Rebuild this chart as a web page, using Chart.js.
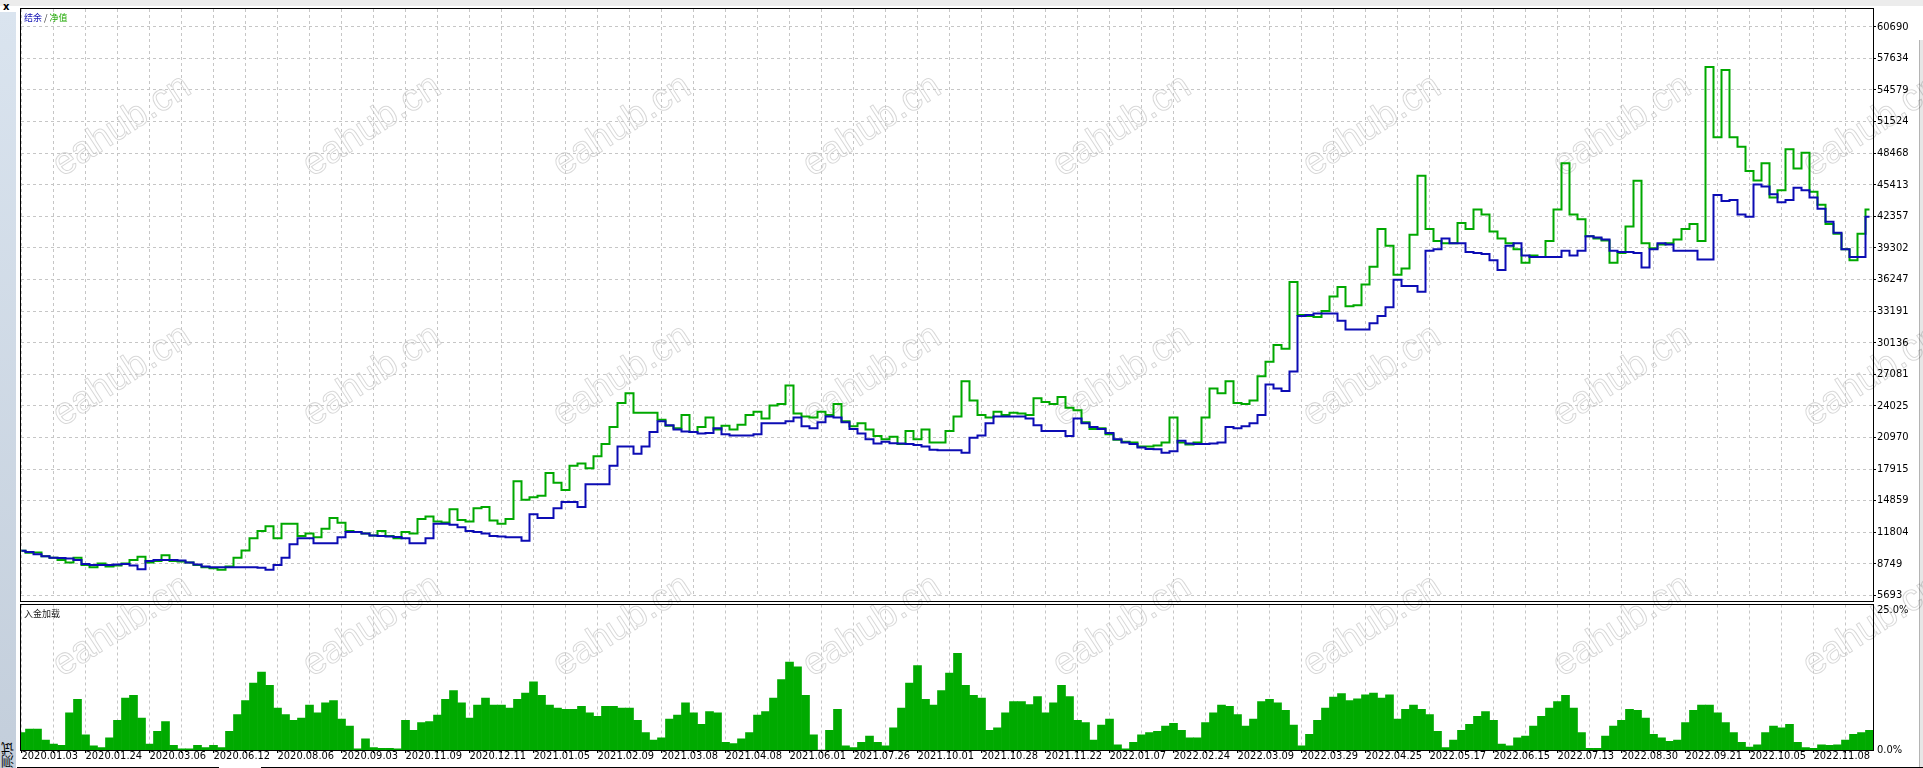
<!DOCTYPE html>
<html>
<head>
<meta charset="utf-8">
<script src="https://cdn.jsdelivr.net/npm/chart.js@4.4.0/dist/chart.umd.min.js"></script>
<style>
	html, body { margin: 0; padding: 0; background: #fff; }
	body { width: 1923px; height: 768px; position: relative; overflow: hidden; }
	canvas { position: absolute; left: 0; }
	.box { position: absolute; box-sizing: border-box; pointer-events: none; }
	#topband { left: 0; top: 0; width: 1923px; height: 6px; background: #ececec; }
	#side { left: 0; top: 12px; width: 16px; height: 756px; background: linear-gradient(#dae4ef, #c3cedb); }
	#close { left: 3px; top: 1px; font: bold 10px "DejaVu Sans", sans-serif; color: #000; }
	#tab { left: 0; bottom: 0; width: 16px; height: 30px; font: 13px "Noto Sans CJK SC", sans-serif; color: #000;
		writing-mode: vertical-rl; transform: rotate(180deg); line-height: 16px; }
	#mainFrame { left: 20px; top: 8px; width: 1854px; height: 594px; border: 1px solid #000; }
	#loadFrame { left: 20px; top: 604px; width: 1854px; height: 147px; border: 1px solid #000; }
	#legend { left: 24px; top: 11px; font: 9px "Noto Sans CJK SC", sans-serif; white-space: pre; }
	#loadTitle { left: 24px; top: 607px; font: 9px "Noto Sans CJK SC", sans-serif; color: #222; }
	#edge { left: 1919px; top: 40px; width: 4px; height: 728px; background: #e6e6e6; border-left: 1px solid #b4b4b4; }
	.foot { top: 767px; height: 1px; background: #000; }
</style>
</head>
<body>
<div class="box" id="topband"></div>
<div class="box" id="side"></div>
<div class="box" id="close">x</div>
<div class="box" id="tab">测试</div>
<div class="box" id="edge"></div>
<canvas id="mainChart" width="1923" height="603" style="top:0"></canvas>
<canvas id="loadChart" width="1923" height="165" style="top:603px"></canvas>
<div class="box" id="mainFrame"></div>
<div class="box" id="loadFrame"></div>
<div class="box" id="legend"><span style="color:#1414b4">结余</span><span style="color:#333"> / </span><span style="color:#1ea800">净值</span></div>
<div class="box" id="loadTitle">入金加载</div>
<div class="box foot" style="left:17px;width:202px"></div>
<div class="box foot" style="left:261px;width:1662px"></div>
<script>
const xTickLabels = ['2020.01.03', '2020.01.24', '2020.03.06', '2020.06.12', '2020.08.06', '2020.09.03',
	'2020.11.09', '2020.12.11', '2021.01.05', '2021.02.09', '2021.03.08', '2021.04.08', '2021.06.01',
	'2021.07.26', '2021.10.01', '2021.10.28', '2021.11.22', '2022.01.07', '2022.02.24', '2022.03.09',
	'2022.03.29', '2022.04.25', '2022.05.17', '2022.06.15', '2022.07.13', '2022.08.30', '2022.09.21',
	'2022.10.05', '2022.11.08']

const yTicks = [5693, 8749, 11804, 14859, 17915, 20970, 24025, 27081, 30136, 33191,
	36247, 39302, 42357, 45413, 48468, 51524, 54579, 57634, 60690]

const pctTicks = [0, 25]

// 结余
const balance = [
	10000, 9900, 9670, 9480, 9340, 9300, 9250, 9110, 8730, 8640, 8640, 8640, 8690, 8730, 8590, 8220,
	9010, 9110, 9110, 9110, 9060, 8870, 8690, 8500, 8410, 8410, 8410, 8410, 8410, 8410, 8360, 8170,
	8640, 9340, 10650, 11210, 11210, 10740, 10740, 10740, 11310, 11820, 11820, 11680, 11490, 11450, 11400, 11350,
	11210, 10740, 10740, 11210, 12620, 12620, 12520, 12290, 11910, 11820, 11680, 11450, 11400, 11310, 11310, 10980,
	13550, 13180, 13180, 14110, 14720, 14720, 14250, 16450, 16450, 16450, 18230, 20100, 20100, 19400, 20100, 21500,
	22530, 22150, 21730, 21540, 21500, 21360, 21400, 21870, 21270, 21170, 21170, 21170, 21270, 22340, 22340, 22340,
	22530, 22900, 22060, 21870, 22430, 22990, 22900, 22430, 21780, 21360, 20800, 20380, 20560, 20420, 20380, 20330,
	20240, 20100, 19770, 19720, 19720, 19720, 19490, 20940, 21170, 22340, 22990, 22990, 22990, 22990, 22810, 22150,
	21590, 21590, 21590, 21120, 22810, 22340, 21970, 21780, 21400, 20800, 20470, 20330, 20000, 19860, 19820, 19490,
	19630, 20650, 20380, 20330, 20330, 20380, 20470, 21970, 21870, 22060, 22340, 23130, 26080, 25710, 25470, 27340,
	32720, 32810, 32950, 32950, 32950, 32250, 31410, 31410, 31410, 32020, 32720, 33560, 36230, 35620, 35620, 35060,
	39030, 39170, 40200, 39740, 39740, 38900, 38800, 38710, 38100, 37160, 39500, 39740, 38570, 38430, 38430, 38430,
	38430, 39030, 38570, 39030, 40440, 40300, 40110, 39030, 38900, 38900, 38800, 37400, 39170, 39740, 39640, 39030,
	39030, 39030, 38190, 38190, 44410, 43850, 43940, 42540, 42310, 45440, 45250, 44500, 43710, 43940, 45110, 44880,
	44180, 43100, 41840, 40760, 39170, 38430, 38430, 42310
]

// 净值
const equity = [
	10000, 9810, 9850, 9480, 9340, 9110, 8870, 9340, 8640, 8410, 8780, 8500, 8590, 8780, 9110, 9430,
	8870, 9010, 9570, 9010, 8960, 8870, 8640, 8410, 8310, 8170, 8500, 9340, 10040, 11210, 11910, 12380,
	11210, 12620, 12620, 11450, 11680, 11310, 12150, 13180, 12710, 11910, 11820, 11680, 11490, 11910, 11450, 11210,
	11820, 11680, 13080, 13320, 12850, 12750, 14020, 12990, 12850, 14110, 14250, 12940, 12620, 13080, 16730, 14950,
	15190, 15330, 17520, 16590, 15890, 18230, 18460, 17990, 19160, 20330, 21970, 24300, 25240, 23370, 23370, 23370,
	22670, 22110, 21870, 23130, 21500, 21970, 22900, 21730, 22110, 21730, 22200, 23130, 23460, 22810, 24070, 24210,
	26000, 23280, 22990, 22900, 23460, 23130, 24210, 22530, 22060, 22340, 21730, 21120, 20800, 21030, 20330, 21590,
	20800, 21730, 20470, 20470, 21590, 22990, 26410, 24540, 23130, 22900, 23460, 23130, 23370, 23280, 23130, 24770,
	24400, 24210, 24870, 23840, 23600, 22430, 21780, 21870, 21270, 20750, 20560, 20470, 20100, 20100, 20190, 20470,
	22900, 20470, 20290, 20470, 22900, 25710, 25240, 26410, 24300, 24210, 24540, 26880, 28280, 29920, 29540, 36000,
	32810, 32720, 32630, 33190, 34590, 35530, 33660, 33750, 35760, 37490, 41140, 39500, 36700, 37300, 40580, 46280,
	41140, 39970, 39740, 39740, 41700, 41140, 43010, 42540, 40900, 40200, 39740, 39170, 37860, 38570, 38430, 39970,
	43010, 47500, 42540, 42070, 40440, 40200, 40020, 37860, 38800, 41370, 45800, 39740, 39270, 39640, 39740, 40110,
	41140, 41610, 39970, 56800, 50000, 56500, 50000, 49090, 46750, 45810, 47500, 44180, 44880, 48850, 46980, 48500,
	44740, 43480, 41610, 40670, 39170, 38100, 40670, 43010
]

// 入金加载, %
const depositLoad = [
	3.0, 3.6, 3.6, 1.7, 1.0, 0.8, 6.4, 8.7, 2.6, 0.7, 0.4, 2.1, 5.1, 8.9, 9.4, 5.5,
	1.0, 3.2, 4.9, 0.8, 0.2, 0.2, 0.8, 0.4, 0.8, 0.4, 3.2, 6.1, 8.5, 11.5, 13.4, 11.1,
	7.2, 6.1, 5.1, 5.5, 7.7, 6.4, 8.1, 8.5, 5.3, 4.1, 0.2, 1.9, 0.4, 0.3, 0.3, 0.2,
	5.1, 3.4, 4.7, 4.9, 6.0, 8.7, 10.2, 8.1, 5.5, 7.7, 8.9, 7.7, 7.7, 7.2, 8.7, 9.8,
	11.7, 9.4, 7.7, 7.2, 7.0, 7.0, 7.5, 6.4, 5.8, 7.5, 7.5, 7.2, 7.2, 5.1, 3.0, 1.7,
	2.1, 5.3, 6.0, 8.1, 6.4, 4.4, 6.6, 6.4, 1.3, 1.1, 1.9, 3.0, 6.0, 6.6, 8.9, 12.1,
	15.1, 14.3, 9.4, 2.6, 0.0, 3.4, 7.0, 0.7, 0.4, 1.3, 2.4, 1.3, 0.7, 3.8, 7.2, 11.5,
	14.5, 8.7, 7.7, 10.2, 13.2, 16.6, 11.1, 9.4, 8.9, 3.4, 3.8, 6.4, 8.3, 8.3, 7.8, 9.2,
	6.4, 8.1, 11.1, 9.2, 5.1, 4.7, 1.7, 4.3, 5.3, 0.9, 0.2, 1.3, 2.6, 3.0, 3.2, 4.1,
	4.6, 3.4, 2.1, 2.1, 4.7, 6.4, 7.7, 7.5, 6.1, 4.1, 5.3, 8.3, 8.7, 8.1, 6.8, 4.3,
	0.7, 2.7, 5.1, 7.2, 9.1, 9.7, 8.5, 8.8, 9.5, 9.8, 8.9, 9.5, 5.3, 7.0, 7.7, 7.0,
	6.1, 3.2, 0.4, 1.7, 3.4, 4.4, 5.8, 6.6, 5.1, 1.0, 0.7, 2.1, 2.4, 4.1, 5.8, 7.2,
	8.3, 9.4, 7.2, 3.0, 0.3, 0.3, 2.4, 4.1, 5.1, 7.0, 6.8, 5.5, 2.7, 2.1, 1.5, 1.7,
	4.7, 6.8, 7.7, 7.7, 6.4, 4.7, 3.0, 1.3, 0.5, 0.9, 3.0, 4.1, 3.8, 4.4, 1.3, 0.4,
	0.3, 0.9, 0.8, 0.9, 1.7, 2.7, 3.0, 3.4
]

const axisFont = '"Liberation Sans Narrow", "DejaVu Sans Condensed", "Liberation Sans", sans-serif'
const gridColor = '#c6c6c6'
const xMin = -0.0625
const xMax = 231.4375
const gridIdx = []
for (let i = 0; i <= 228; i += 4) gridIdx.push(i)

// eahub.cn watermark, page coordinates
const wmCols = [122, 372, 622, 872, 1122, 1372, 1622, 1872]
const wmRows = [126, 376, 626]
const watermark = {
	id: 'watermark',
	beforeDraw(chart) {
		const ctx = chart.ctx
		const top = chart.canvas.offsetTop
		ctx.save()
		ctx.font = '38px "Liberation Sans", Arial, sans-serif'
		ctx.strokeStyle = 'rgba(0,0,0,0.16)'
		ctx.lineWidth = 1
		ctx.textAlign = 'center'
		ctx.textBaseline = 'middle'
		wmRows.forEach(y => wmCols.forEach(x => {
			ctx.save()
			ctx.translate(x, y - top)
			ctx.rotate(-33 * Math.PI / 180)
			ctx.strokeText('eahub.cn', 0, 0)
			ctx.restore()
		}))
		ctx.restore()
	}
}

const pctLabels = {
	id: 'pctLabels',
	afterDraw(chart) {
		const s = chart.scales.y
		const ctx = chart.ctx
		ctx.save()
		ctx.font = '11px ' + axisFont
		ctx.fillStyle = '#000'
		ctx.textAlign = 'left'
		pctTicks.forEach(v => {
			ctx.textBaseline = v === s.max ? 'top' : 'middle'
			ctx.fillText(v.toFixed(1) + '%', chart.chartArea.right + 4, s.getPixelForValue(v))
		})
		ctx.restore()
	}
}

const xy = arr => arr.map((v, i) => ({ x: i, y: v }))

new Chart(document.getElementById('mainChart'), {
	type: 'line',
	data: {
		datasets: [{
			label: '结余',
			data: xy(balance),
			borderColor: '#0c0cb4',
			borderWidth: 2,
			pointRadius: 0,
			stepped: 'middle',
			order: 0
		}, {
			label: '净值',
			data: xy(equity),
			borderColor: '#00a800',
			borderWidth: 2,
			pointRadius: 0,
			stepped: 'middle',
			order: 1
		}]
	},
	options: {
		responsive: false,
		animation: false,
		devicePixelRatio: 1,
		layout: { padding: { left: 21, top: 9, right: 0, bottom: 1.5 } },
		plugins: { legend: { display: false }, tooltip: { enabled: false } },
		scales: {
			x: {
				type: 'linear',
				min: xMin,
				max: xMax,
				afterBuildTicks: s => { s.ticks = gridIdx.map(v => ({ value: v })) },
				afterFit: s => { s.height = 0 },
				ticks: { display: false },
				grid: { color: gridColor, drawTicks: false },
				border: { display: false, dash: [3, 3] }
			},
			y: {
				position: 'right',
				min: 5693,
				max: 62408,
				afterBuildTicks: s => { s.ticks = yTicks.map(v => ({ value: v })) },
				afterFit: s => { s.width = 50 },
				ticks: {
					color: '#000',
					padding: 1,
					autoSkip: false,
					font: { family: axisFont, size: 11 },
					callback: v => String(v)
				},
				grid: { color: gridColor, tickColor: '#000', tickLength: 3, tickBorderDash: [] },
				border: { display: false, dash: [3, 3] }
			}
		}
	},
	plugins: [watermark]
})

new Chart(document.getElementById('loadChart'), {
	type: 'bar',
	data: {
		datasets: [{
			label: '入金加载',
			data: xy(depositLoad),
			backgroundColor: '#00aa00',
			borderWidth: 0,
			barPercentage: 1,
			categoryPercentage: 1
		}]
	},
	options: {
		responsive: false,
		animation: false,
		devicePixelRatio: 1,
		layout: { padding: { left: 21, top: 1.5, right: 50, bottom: 0 } },
		plugins: { legend: { display: false }, tooltip: { enabled: false } },
		scales: {
			x: {
				type: 'linear',
				offset: false,
				min: xMin,
				max: xMax,
				afterBuildTicks: s => { s.ticks = gridIdx.map(v => ({ value: v })) },
				afterFit: s => { s.height = 18 },
				ticks: {
					autoSkip: false,
					maxRotation: 0,
					minRotation: 0,
					align: 'start',
					padding: -2,
					color: '#000',
					font: { family: axisFont, size: 11, lineHeight: 1 },
					callback: v => (v % 8 === 0 ? xTickLabels[v / 8] : '')
				},
				grid: { offset: false, color: gridColor, tickColor: '#000', tickLength: 3, tickBorderDash: [] },
				border: { display: false, dash: [3, 3] }
			},
			y: { display: false, min: 0, max: 25 }
		}
	},
	plugins: [watermark, pctLabels]
})
</script>
</body>
</html>
